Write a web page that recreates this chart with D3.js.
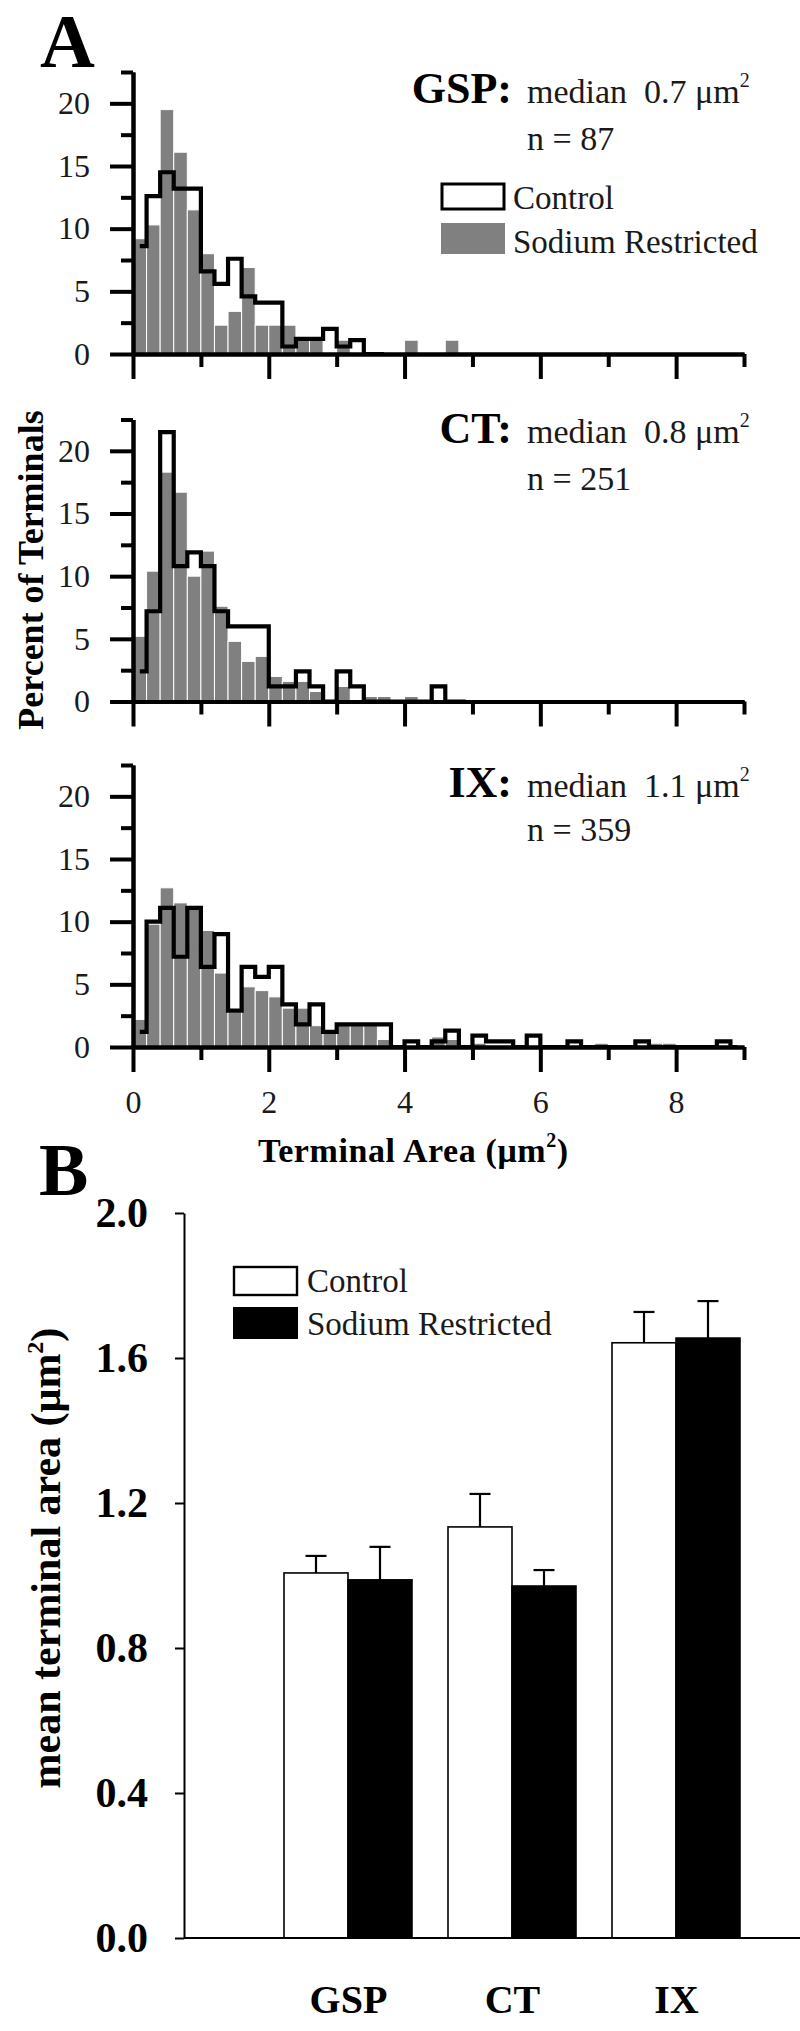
<!DOCTYPE html>
<html><head><meta charset="utf-8">
<script src="https://cdn.jsdelivr.net/npm/d3@7"></script>
<style>html,body{margin:0;padding:0;background:#fff}</style>
</head><body><svg id="c" width="800" height="2031" style="display:block;background:#fff"></svg>
<script>
// ---------- DATA ----------
const binStarts = [0,0.2,0.4,0.6,0.8,1.0,1.2,1.4,1.6,1.8,2.0,2.2,2.4,2.6,2.8,3.0,3.2,3.4,3.6,3.8,4.0,4.2,4.4,4.6,4.8,5.0,5.2,5.4,5.6,5.8,6.0,6.2,6.4,6.6,6.8,7.0,7.2,7.4,7.6,7.8,8.0,8.2,8.4,8.6,8.8];
const binWidth = 0.2;
const nerveLabels = ["GSP:", "CT:", "IX:"];
const medianLabels = ["0.7", "0.8", "1.1"];
const nLabels = ["87", "251", "359"];

const gspSodium  = [9.2,10.3,19.5,16.1,11.5,8.0,2.3,3.4,6.9,2.3,2.3,2.3,1.1,1.1,0,1.1,0,0,0,0,1.1,0,0,1.1];
const gspControl = [8.6,12.6,14.5,13.2,13.2,6.6,5.6,7.6,4.6,4.1,4.1,0.6,1.2,1.2,2.0,0.6,1.1,0,0];
const ctSodium   = [5.2,10.4,18.3,16.7,10.0,12.0,7.6,4.8,3.2,3.6,2.0,1.6,1.6,0.8,0,1.2,0,0.4,0.4,0,0.4];
const ctControl  = [2.4,7.2,21.5,10.8,11.9,10.8,7.2,6.0,6.0,6.0,1.2,1.2,2.4,1.2,0,2.4,1.2,0,0,0,0,0,1.2,0,0];
const ixSodium   = [2.2,9.8,12.7,11.5,11.3,9.3,5.9,2.8,4.8,4.5,4.0,3.1,3.1,1.7,1.1,1.9,1.9,1.9,0.6,0,0,0,0.8,0.6,0,0.3,0,0,0,0,0,0,0,0,0.3,0,0,0,0.3,0.3];
const ixControl  = [1.2,10.0,11.1,7.2,11.1,6.4,9.0,2.9,6.4,5.6,6.4,3.4,1.8,3.4,1.2,1.8,1.8,1.8,1.8,0,0.45,0,0.45,1.3,0,0.9,0.45,0.45,0,0.9,0,0,0.45,0,0,0,0,0.45,0,0,0,0,0,0.45,0];

const yMajorTicks = [0,5,10,15,20];
const yMinorTicks = [2.5,7.5,12.5,17.5,22.5];
const xMajorTicks = [0,2,4,6,8];
const xMinorTicks = [1,3,5,7,9];

const categories = ["GSP", "CT", "IX"];
const controlMean = [1.007, 1.134, 1.642];
const controlSE   = [0.047, 0.091, 0.085];
const sodiumMean  = [0.988, 0.971, 1.655];
const sodiumSE    = [0.091, 0.044, 0.102];
const bTicks = [0, 0.4, 0.8, 1.2, 1.6, 2.0];

// ---------- DRAW ----------
const serif = "'Liberation Serif','Times New Roman',Times,serif";
const gray = "#808080";
const svg = d3.select("#c");

const x = d3.scaleLinear().domain([0, 9]).range([133, 744]);

const panels = [
  {sod: gspSodium, ctl: gspControl, base: 354,   titleY: 103, nY: 150},
  {sod: ctSodium,  ctl: ctControl,  base: 701.5, titleY: 443, nY: 490},
  {sod: ixSodium,  ctl: ixControl,  base: 1047,  titleY: 797, nY: 841}
];

function styleAxis(g, w) {
  g.select(".domain").attr("stroke", "#000").attr("stroke-width", w);
  g.selectAll(".tick line").attr("stroke", "#000").attr("stroke-width", w);
}

panels.forEach((p, k) => {
  const y = d3.scaleLinear().domain([0, 22.5]).range([p.base, p.base - 282]);
  const g = svg.append("g");

  // gray bars (sodium restricted)
  g.selectAll("rect.sod")
    .data(p.sod.map((v, i) => ({v, i})).filter(d => d.v > 0))
    .join("rect").attr("class", "sod")
    .attr("x", d => x(binStarts[d.i]))
    .attr("width", d => x(binStarts[d.i] + binWidth) - x(binStarts[d.i]))
    .attr("y", d => y(d.v))
    .attr("height", d => y(0) - y(d.v))
    .attr("fill", gray).attr("stroke", "#fff").attr("stroke-width", 1);

  // control step outline
  const line = d3.line()
    .x((d, i) => x(binStarts[i] + binWidth / 2))
    .y(d => y(d))
    .curve(d3.curveStep);
  g.append("path").datum(p.ctl).attr("d", line)
    .attr("fill", "none").attr("stroke", "#000").attr("stroke-width", 4.2)
    .attr("stroke-linejoin", "miter");

  // y axis
  const yMaj = g.append("g").attr("transform", `translate(${x(0)},0)`)
    .call(d3.axisLeft(y).tickValues(yMajorTicks).tickSize(23).tickSizeOuter(0).tickPadding(20).tickFormat(d3.format("d")));
  styleAxis(yMaj, 4);
  yMaj.selectAll("text").attr("font-family", serif).attr("font-size", 32).attr("fill", "#1a1a1a");
  const yMin = g.append("g").attr("transform", `translate(${x(0)},0)`)
    .call(d3.axisLeft(y).tickValues(yMinorTicks).tickSize(12).tickSizeOuter(0).tickFormat(""));
  styleAxis(yMin, 4);

  // x axis
  const xMaj = g.append("g").attr("transform", `translate(0,${y(0)})`)
    .call(d3.axisBottom(x).tickValues(xMajorTicks).tickSize(25).tickSizeOuter(0).tickPadding(18)
      .tickFormat(k === 2 ? d3.format("d") : ""));
  styleAxis(xMaj, 4);
  xMaj.selectAll("text").attr("font-family", serif).attr("font-size", 32).attr("fill", "#1a1a1a");
  const xMin = g.append("g").attr("transform", `translate(0,${y(0)})`)
    .call(d3.axisBottom(x).tickValues(xMinorTicks).tickSize(13).tickSizeOuter(0).tickFormat(""));
  styleAxis(xMin, 4);

  // titles
  g.append("text").attr("x", 512).attr("y", p.titleY).attr("text-anchor", "end")
    .attr("font-family", serif).attr("font-weight", "bold").attr("font-size", 44)
    .text(nerveLabels[k]);
  const t = g.append("text").attr("x", 527).attr("y", p.titleY)
    .attr("font-family", serif).attr("font-size", 34).attr("fill", "#1a1a1a");
  t.append("tspan").text("median");
  t.append("tspan").attr("dx", 17).text(medianLabels[k] + " \u03BCm");
  t.append("tspan").attr("dy", -16).attr("font-size", 20).text("2");
  g.append("text").attr("x", 527).attr("y", p.nY)
    .attr("font-family", serif).attr("font-size", 34).attr("fill", "#1a1a1a")
    .text("n = " + nLabels[k]);
});

// legend A
svg.append("rect").attr("x", 442).attr("y", 184).attr("width", 62).attr("height", 25)
  .attr("fill", "#fff").attr("stroke", "#000").attr("stroke-width", 3);
svg.append("rect").attr("x", 441).attr("y", 223).attr("width", 64).attr("height", 31).attr("fill", gray);
svg.append("text").attr("x", 513).attr("y", 209).attr("font-family", serif).attr("font-size", 33).attr("fill", "#1a1a1a").text("Control");
svg.append("text").attr("x", 513).attr("y", 253).attr("font-family", serif).attr("font-size", 33).attr("fill", "#1a1a1a").text("Sodium Restricted");

// panel letters
svg.append("text").attr("x", 40).attr("y", 67).attr("font-family", serif).attr("font-weight", "bold").attr("font-size", 76).text("A");
svg.append("text").attr("x", 39).attr("y", 1195).attr("font-family", serif).attr("font-weight", "bold").attr("font-size", 74).text("B");

// A axis titles
svg.append("text").attr("transform", "translate(43,570) rotate(-90)").attr("text-anchor", "middle")
  .attr("font-family", serif).attr("font-weight", "bold").attr("font-size", 36).text("Percent of Terminals");
const xt = svg.append("text").attr("x", 258).attr("y", 1162)
  .attr("font-family", serif).attr("font-weight", "bold").attr("font-size", 34).attr("letter-spacing", 0.6);
xt.append("tspan").text("Terminal Area (\u03BCm");
xt.append("tspan").attr("dy", -15).attr("font-size", 20).text("2");
xt.append("tspan").attr("dy", 15).text(")");

// ---------- PANEL B ----------
const yB = d3.scaleLinear().domain([0, 2]).range([1938, 1213]);
const xB = d3.scalePoint().domain([""].concat(categories)).range([184, 676]);
const barW = 64;
const gB = svg.append("g");

const barData = [];
categories.forEach((c, i) => {
  barData.push({c, m: controlMean[i], se: controlSE[i], off: -barW, fill: "#fff"});
  barData.push({c, m: sodiumMean[i], se: sodiumSE[i], off: 0, fill: "#000"});
});

// error bars
gB.selectAll("line.err").data(barData).join("line").attr("class", "err")
  .attr("x1", d => xB(d.c) + d.off + barW / 2).attr("x2", d => xB(d.c) + d.off + barW / 2)
  .attr("y1", d => yB(d.m)).attr("y2", d => yB(d.m + d.se))
  .attr("stroke", "#000").attr("stroke-width", 2.2);
gB.selectAll("line.cap").data(barData).join("line").attr("class", "cap")
  .attr("x1", d => xB(d.c) + d.off + barW / 2 - 10.5).attr("x2", d => xB(d.c) + d.off + barW / 2 + 10.5)
  .attr("y1", d => yB(d.m + d.se)).attr("y2", d => yB(d.m + d.se))
  .attr("stroke", "#000").attr("stroke-width", 2.2);

gB.selectAll("rect.bar").data(barData).join("rect").attr("class", "bar")
  .attr("x", d => xB(d.c) + d.off).attr("width", barW)
  .attr("y", d => yB(d.m)).attr("height", d => yB(0) - yB(d.m))
  .attr("fill", d => d.fill).attr("stroke", "#000").attr("stroke-width", 1.6);

const yAxB = gB.append("g").attr("transform", "translate(184,0)")
  .call(d3.axisLeft(yB).tickValues(bTicks).tickSize(9).tickSizeOuter(0).tickPadding(27).tickFormat(d3.format(".1f")));
styleAxis(yAxB, 2);
yAxB.selectAll("text").attr("font-family", serif).attr("font-weight", "bold").attr("font-size", 42).attr("fill", "#000");

const xAxB = gB.append("g").attr("transform", `translate(0,${yB(0)})`)
  .call(d3.axisBottom(xB).tickValues(categories).tickSize(0).tickPadding(47));
xAxB.select(".domain").attr("d", "M184,0H800").attr("stroke", "#000").attr("stroke-width", 2);
xAxB.selectAll("text").attr("font-family", serif).attr("font-weight", "bold").attr("font-size", 40).attr("fill", "#000");

// y title B
const yt = svg.append("text").attr("transform", "translate(60,1558) rotate(-90)").attr("text-anchor", "middle")
  .attr("font-family", serif).attr("font-weight", "bold").attr("font-size", 42);
yt.append("tspan").text("mean terminal area (\u03BCm");
yt.append("tspan").attr("dy", -17).attr("font-size", 24).text("2");
yt.append("tspan").attr("dy", 17).text(")");

// legend B
svg.append("rect").attr("x", 234).attr("y", 1267).attr("width", 63).attr("height", 28)
  .attr("fill", "#fff").attr("stroke", "#000").attr("stroke-width", 2.4);
svg.append("rect").attr("x", 233).attr("y", 1307).attr("width", 65).attr("height", 32).attr("fill", "#000");
svg.append("text").attr("x", 307).attr("y", 1292).attr("font-family", serif).attr("font-size", 33).attr("fill", "#1a1a1a").text("Control");
svg.append("text").attr("x", 307).attr("y", 1335).attr("font-family", serif).attr("font-size", 33).attr("fill", "#1a1a1a").text("Sodium Restricted");
</script></body></html>
